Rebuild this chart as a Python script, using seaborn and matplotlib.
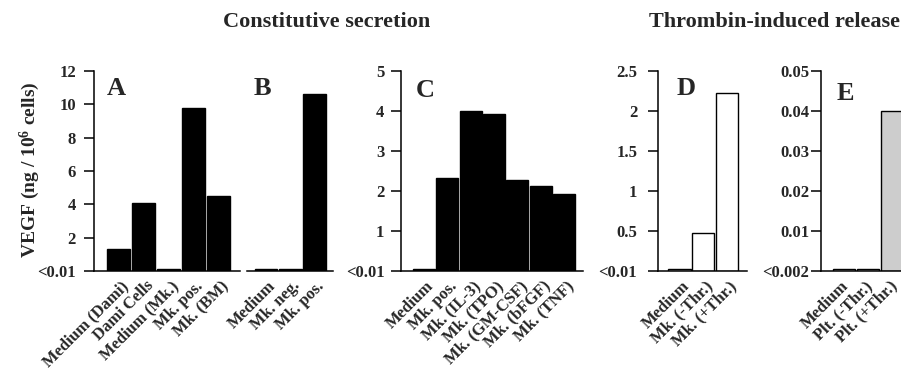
import matplotlib
matplotlib.use("Agg")
import matplotlib.pyplot as plt
import matplotlib.transforms as mtransforms
import seaborn as sns
import pandas as pd

# ---- data ----
A_cats = ["Medium (Dami)", "Dami Cells", "Medium (Mk.)", "Mk. pos.", "Mk. (BM)"]
A_vals = [1.3, 4.1, 0.1, 9.8, 4.5]
B_cats = ["Medium", "Mk. neg.", "Mk. pos."]
B_vals = [0.1, 0.1, 10.65]
C_cats = ["Medium", "Mk. pos.", "Mk. (IL-3)", "Mk. (TPO)", "Mk. (GM-CSF)", "Mk. (bFGF)", "Mk. (TNF)"]
C_vals = [0.05, 2.32, 4.0, 3.92, 2.27, 2.13, 1.93]
D_cats = ["Medium", "Mk. (-Thr.)", "Mk. (+Thr.)"]
D_vals = [0.02, 0.47, 2.22]
E_cats = ["Medium", "Plt. (-Thr.)", "Plt. (+Thr.)"]
E_vals = [0.0005, 0.0005, 0.040]

AB_ticks = [0, 2, 4, 6, 8, 10, 12]
AB_ticklabels = ["<0.01", "2", "4", "6", "8", "10", "12"]
C_ticks = [0, 1, 2, 3, 4, 5]
C_ticklabels = ["<0.01", "1", "2", "3", "4", "5"]
D_ticks = [0, 0.5, 1, 1.5, 2, 2.5]
D_ticklabels = ["<0.01", "0.5", "1", "1.5", "2", "2.5"]
E_ticks = [0, 0.01, 0.02, 0.03, 0.04, 0.05]
E_ticklabels = ["<0.002", "0.01", "0.02", "0.03", "0.04", "0.05"]

sns.set_style("white")
plt.rcParams['font.family'] = ['Liberation Serif', 'DejaVu Serif']
plt.rcParams['font.weight'] = 'bold'
plt.rcParams['mathtext.fontset'] = 'custom'
plt.rcParams['mathtext.rm'] = 'Liberation Serif:bold'
plt.rcParams['mathtext.it'] = 'Liberation Serif:bold'
plt.rcParams['mathtext.bf'] = 'Liberation Serif:bold'
plt.rcParams['mathtext.default'] = 'rm'

W, H = 901, 371
fig = plt.figure(figsize=(W / 100, H / 100), dpi=100)

def px_axes(x0, x1, y_top=71, y_bot=271):
    return fig.add_axes([x0 / W, 1 - y_bot / H, (x1 - x0) / W, (y_bot - y_top) / H])

panels = [
    # cats, vals, x0, x1, xlim, width, face, ylim, ticks, labels, letter, letterpos, showy, pad, label_dx
    (A_cats, A_vals, 94, 240, (-0.98, 4.86), 0.92, "black", (0, 12), AB_ticks, AB_ticklabels, "A", (107, 95), True, 6, 2),
    (B_cats, B_vals, 247, 333, (-0.78, 2.76), 0.93, "black", (0, 12), AB_ticks, AB_ticklabels, "B", (254, 95), False, 6, 2),
    (C_cats, C_vals, 401, 583, (-0.99, 6.82), 0.94, "black", (0, 5), C_ticks, C_ticklabels, "C", (416, 97), True, 5, 2),
    (D_cats, D_vals, 658, 747, (-0.905, 2.84), 0.93, "white", (0, 2.5), D_ticks, D_ticklabels, "D", (677, 95), True, 8, 2),
    (E_cats, E_vals, 821, 940, (-0.96, 4.0), 0.92, ["white", "white", "#cdcdcd"], (0, 0.05), E_ticks, E_ticklabels, "E", (837, 100), True, 1.5, -3),
]

for cats, vals, x0, x1, xlim, width, face, ylim, ticks, labels, letter, lpos, showy, pad, ldx in panels:
    ax = px_axes(x0, x1)
    df = pd.DataFrame({"cat": cats, "val": vals})
    sns.barplot(data=df, x="cat", y="val", ax=ax, width=width, color="black",
                edgecolor="black", linewidth=1.0, errorbar=None)
    if isinstance(face, list):
        for p, fc in zip(ax.patches, face):
            p.set_facecolor(fc)
    else:
        for p in ax.patches:
            p.set_facecolor(face)
    ax.set_xlim(*xlim)
    ax.set_ylim(*ylim)
    ax.set_xlabel("")
    ax.set_ylabel("")
    ax.set_facecolor("none")
    for s in ["top", "right"]:
        ax.spines[s].set_visible(False)
    ax.spines["bottom"].set_linewidth(1.1)
    ax.spines["bottom"].set_color("black")
    ax.tick_params(axis="x", length=0, pad=5)
    ax.set_xticks(range(len(cats)))
    ax.set_xticklabels(cats, rotation=45, ha="right", rotation_mode="anchor",
                       fontsize=12, fontweight="bold")
    offset = mtransforms.ScaledTranslation(ldx / 100, 0, fig.dpi_scale_trans)
    for lab in ax.get_xticklabels():
        lab.set_transform(lab.get_transform() + offset)
    if showy:
        ax.spines["left"].set_linewidth(1.1)
        ax.spines["left"].set_color("black")
        ax.set_yticks(ticks)
        ax.set_yticklabels(labels, fontsize=12, fontweight="bold")
        ax.tick_params(axis="y", length=7, width=1.1, pad=pad, color="black", left=True)
    else:
        ax.spines["left"].set_visible(False)
        ax.set_yticks([])
    fig.text(lpos[0] / W, 1 - lpos[1] / H, letter, fontsize=19, fontweight="bold",
             ha="left", va="baseline")

fig.text(327 / W, 1 - 27 / H, "Constitutive secretion", fontsize=16,
         fontweight="bold", ha="center", va="baseline")
fig.text(649 / W, 1 - 27 / H, "Thrombin-induced release", fontsize=16,
         fontweight="bold", ha="left", va="baseline")
fig.text(30 / W, 1 - 170 / H, "VEGF (ng / 10$^{6}$ cells)", fontsize=14,
         fontweight="bold", rotation=90, ha="center", va="center")

fig.savefig("out.png", dpi=100)
